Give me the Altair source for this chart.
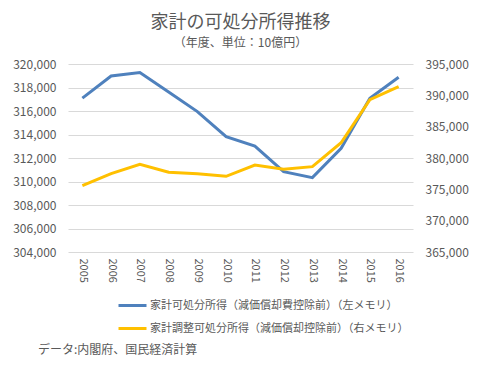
import altair as alt
import pandas as pd

years = ["2005", "2006", "2007", "2008", "2009", "2010", "2011", "2012", "2013", "2014", "2015", "2016"]
left_values = [317100, 318980, 319280, 317620, 315950, 313810, 313020, 310840, 310330, 312830, 317080, 318870]
right_values = [375580, 377500, 378990, 377720, 377500, 377080, 378880, 378190, 378620, 382440, 389300, 391380]
series_names = ["家計可処分所得（減価償却費控除前）（左メモリ）", "家計調整可処分所得（減価償却控除前）（右メモリ）"]
colors = ["#4F81BD", "#FFC000"]
left_ticks = [304000, 306000, 308000, 310000, 312000, 314000, 316000, 318000, 320000]
right_ticks = [365000, 370000, 375000, 380000, 385000, 390000, 395000]
title_text = "家計の可処分所得推移"
subtitle_text = "（年度、単位：10億円）"
source_text = "データ:内閣府、国民経済計算"

FONT = "Noto Sans CJK JP"
GRAY = "#595959"

df = pd.DataFrame({
    "year": years * 2,
    "series": [series_names[0]] * len(years) + [series_names[1]] * len(years),
    "value": left_values + right_values,
})

color = alt.Color(
    "series:N",
    scale=alt.Scale(domain=series_names, range=colors),
    legend=alt.Legend(
        title=None, orient="none", legendX=49, legendY=226, direction="vertical",
        symbolType="stroke", symbolSize=784, symbolStrokeWidth=3,
        labelFont=FONT, labelFontSize=11, labelColor=GRAY, labelLimit=500,
        rowPadding=1, symbolOffset=0, labelOffset=2,
    ),
)

xenc = alt.X(
    "year:N", sort=years, title=None,
    axis=alt.Axis(labelAngle=90, labelAlign="left", labelBaseline="middle", labelPadding=6,
                  domain=False, ticks=False, labelFont=FONT, labelFontSize=11, labelColor=GRAY),
)

base = alt.Chart(df)

left = base.transform_filter(alt.datum.series == series_names[0]).mark_line(strokeWidth=3).encode(
    x=xenc,
    y=alt.Y("value:Q", title=None,
            scale=alt.Scale(domain=[304000, 320000], nice=False, zero=False),
            axis=alt.Axis(orient="left", values=left_ticks, format=",d", domain=False, ticks=False,
                          labelPadding=12, gridColor="#D9D9D9", labelFont=FONT, labelFontSize=12,
                          labelColor=GRAY)),
    color=color,
)

right = base.transform_filter(alt.datum.series == series_names[1]).mark_line(strokeWidth=3).encode(
    x=xenc,
    y=alt.Y("value:Q", title=None,
            scale=alt.Scale(domain=[365000, 395000], nice=False, zero=False),
            axis=alt.Axis(orient="right", values=right_ticks, format=",d", domain=False, ticks=False,
                          grid=False, labelPadding=12, labelFont=FONT, labelFontSize=12,
                          labelColor=GRAY)),
    color=color,
)

src = alt.Chart(pd.DataFrame({"t": [source_text]})).mark_text(
    align="left", baseline="middle", font=FONT, fontSize=12, color=GRAY
).encode(text="t:N", x=alt.value(-30), y=alt.value(286))

chart = alt.layer(left, right, src).resolve_scale(y="independent").properties(
    width=345, height=188,
    autosize=alt.AutoSizeParams(type="none"),
    padding={"left": 60, "top": 56, "right": 82, "bottom": 127},
    title=alt.TitleParams(text=title_text, subtitle=subtitle_text, anchor="middle",
                          font=FONT, fontSize=18, fontWeight="normal", color=GRAY,
                          subtitleFont=FONT, subtitleFontSize=12, subtitleColor=GRAY,
                          subtitlePadding=6, offset=9),
).configure_view(stroke=None)

chart.save("out.html", embed_options={"renderer": "svg", "actions": False})
